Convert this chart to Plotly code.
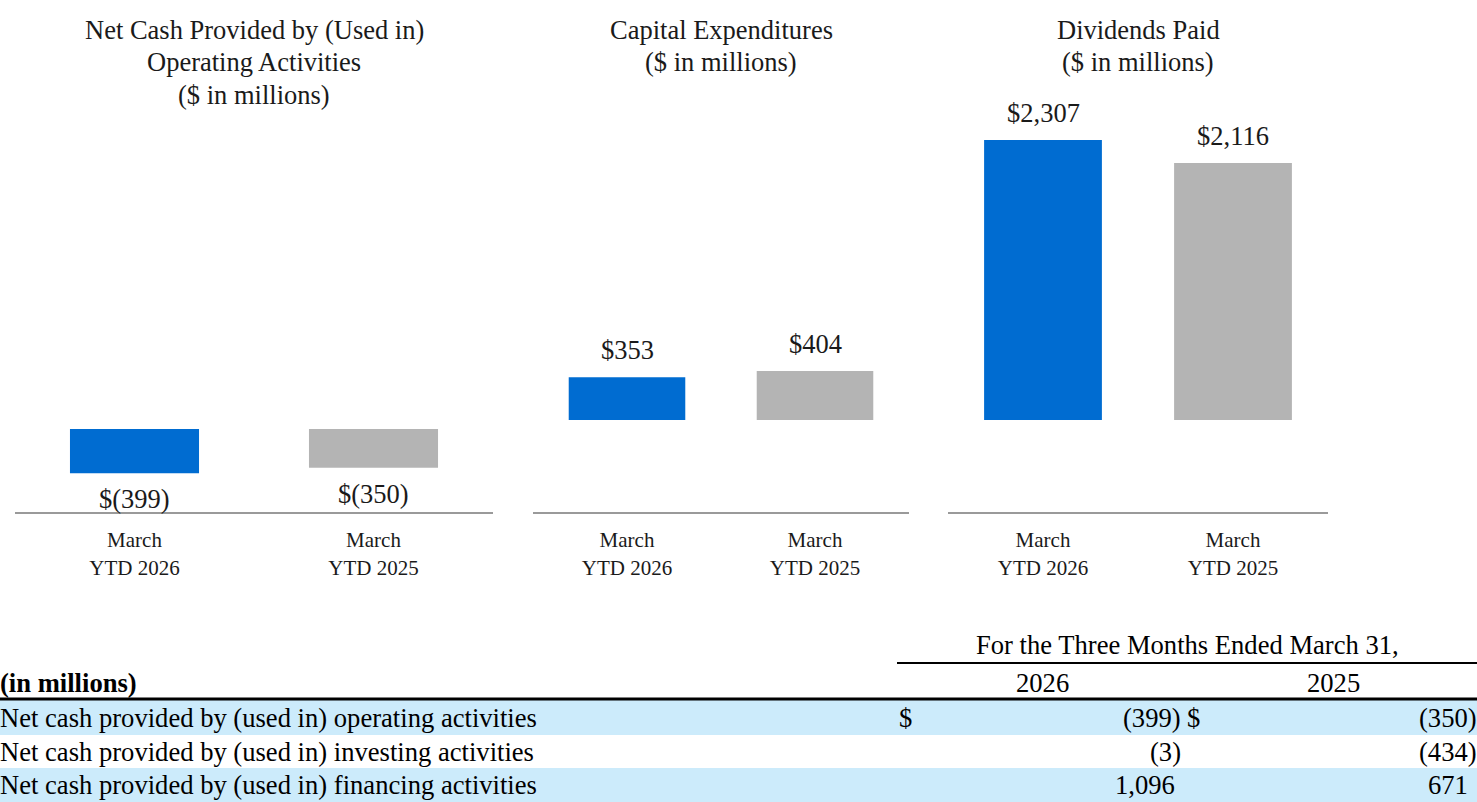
import plotly.graph_objects as go

W, H = 1477, 802

# ---------------- data ----------------
categories = ["March<br>YTD 2026", "March<br>YTD 2025"]
panel_titles = [
    ["Net Cash Provided by (Used in)", "Operating Activities", "($ in millions)"],
    ["Capital Expenditures", "($ in millions)"],
    ["Dividends Paid", "($ in millions)"],
]
operating_cash = [-399, -350]
capital_expenditures = [353, 404]
dividends_paid = [2307, 2116]
panel_values = [operating_cash, capital_expenditures, dividends_paid]

bar_colors = ["#006CD1", "#B4B4B4"]

table_period_header = "For the Three Months Ended March 31,"
table_unit_label = "(in millions)"
table_years = ["2026", "2025"]
table_rows = [
    "Net cash provided by (used in) operating activities",
    "Net cash provided by (used in) investing activities",
    "Net cash provided by (used in) financing activities",
]
table_2026 = ["(399)", "(3)", "1,096"]
table_2025 = ["(350)", "(434)", "671"]
table_dollar_row = [True, False, False]

# ---------------- layout helpers ----------------
FONT = "Liberation Serif, Times New Roman, serif"
TXT = "#1a1a1a"

def px_x(px):
    return px / W

def px_y(py):
    return 1 - py / H

panel_px = [(15, 493), (533, 909), (948, 1328)]
bar_widths = [0.54, 0.62, 0.62]
zero_px = [429, 420, 420]
scales = [0.111, 0.1214, 0.1214]
AXIS_PX = 512

def fmt(v):
    if v < 0:
        return "$({:,})".format(-v)
    return "${:,}".format(v)

fig = go.Figure()
annotations = []
shapes = []

for i, vals in enumerate(panel_values):
    ax = "" if i == 0 else str(i + 1)
    fig.add_trace(go.Bar(
        x=categories, y=vals,
        marker=dict(color=bar_colors, line=dict(width=0)),
        width=bar_widths[i],
        xaxis="x" + ax, yaxis="y" + ax,
        showlegend=False, hoverinfo="skip",
    ))
    x0, x1 = panel_px[i]
    s = scales[i]
    z = zero_px[i]
    yrange = [-(AXIS_PX - z) / s, z / s]
    fig.layout["xaxis" + ax] = dict(
        domain=[px_x(x0), px_x(x1)], anchor="y" + ax,
        showline=True, linecolor="#9A9A9A", linewidth=2,
        showgrid=False, zeroline=False, ticks="",
        tickfont=dict(family=FONT, size=21, color=TXT),
        ticklabelstandoff=8,
        fixedrange=True,
    )
    fig.layout["yaxis" + ax] = dict(
        domain=[px_y(AXIS_PX), 1.0], anchor="x" + ax,
        range=yrange, visible=False, fixedrange=True,
    )
    for c, v in zip(categories, vals):
        annotations.append(dict(
            x=c, y=v, xref="x" + ax, yref="y" + ax,
            text=fmt(v), showarrow=False,
            yanchor="bottom" if v >= 0 else "top",
            yshift=10 if v >= 0 else -9,
            font=dict(family=FONT, size=26.5, color=TXT),
        ))
    cx = (x0 + x1) / 2
    for j, line in enumerate(panel_titles[i]):
        annotations.append(dict(
            x=px_x(cx), y=px_y(30 + 32.5 * j), xref="paper", yref="paper",
            text=line, showarrow=False, xanchor="center", yanchor="middle",
            font=dict(family=FONT, size=26.5, color=TXT),
        ))

# ---------------- table ----------------
tfont = dict(family=FONT, size=26.6, color="#000000")
annotations.append(dict(
    x=px_x(1187), y=px_y(645), xref="paper", yref="paper",
    text=table_period_header, showarrow=False, xanchor="center", yanchor="middle",
    font=tfont))
shapes.append(dict(type="line", xref="paper", yref="paper",
                   x0=px_x(897), x1=1, y0=px_y(663), y1=px_y(663),
                   line=dict(color="black", width=2)))
annotations.append(dict(
    x=0, y=px_y(683), xref="paper", yref="paper",
    text="<b>" + table_unit_label + "</b>", showarrow=False,
    xanchor="left", yanchor="middle", xshift=-2, font=tfont))
for yr, cx in zip(table_years, [1042, 1333]):
    annotations.append(dict(
        x=px_x(cx), y=px_y(683), xref="paper", yref="paper",
        text=yr, showarrow=False, xanchor="center", yanchor="middle", font=tfont))

row_tops = [700, 735, 768]
row_bots = [735, 768, 802]
for r, label in enumerate(table_rows):
    if r % 2 == 0:
        shapes.append(dict(type="rect", xref="paper", yref="paper",
                           x0=0, x1=1, y0=px_y(row_bots[r]), y1=px_y(row_tops[r]),
                           fillcolor="#CCEBFB", line=dict(width=0), layer="below"))
    cy = (row_tops[r] + row_bots[r]) / 2
    annotations.append(dict(
        x=0, y=px_y(cy), xref="paper", yref="paper", text=label,
        showarrow=False, xanchor="left", yanchor="middle", xshift=-2, font=tfont))
    v26 = table_2026[r]
    v25 = table_2025[r]
    r26 = 1183 if v26.endswith(")") else 1177
    r25 = 1479 if v25.endswith(")") else 1470
    annotations.append(dict(
        x=px_x(r26), y=px_y(cy), xref="paper", yref="paper", text=v26,
        showarrow=False, xanchor="right", yanchor="middle", font=tfont))
    annotations.append(dict(
        x=px_x(r25), y=px_y(cy), xref="paper", yref="paper", text=v25,
        showarrow=False, xanchor="right", yanchor="middle", font=tfont))
    if table_dollar_row[r]:
        annotations.append(dict(
            x=px_x(897), y=px_y(cy), xref="paper", yref="paper", text="$",
            showarrow=False, xanchor="left", yanchor="middle", font=tfont))
        annotations.append(dict(
            x=px_x(1185), y=px_y(cy), xref="paper", yref="paper", text="$",
            showarrow=False, xanchor="left", yanchor="middle", font=tfont))

shapes.append(dict(type="line", xref="paper", yref="paper",
                   x0=0, x1=1, y0=px_y(699), y1=px_y(699),
                   line=dict(color="black", width=3)))

fig.update_layout(
    width=W, height=H, autosize=False,
    margin=dict(l=0, r=0, t=0, b=0, pad=0),
    paper_bgcolor="white", plot_bgcolor="white",
    annotations=annotations, shapes=shapes,
    font=dict(family=FONT),
)

fig.write_html(
    "out.html",
    config={"displayModeBar": False},
    post_script="document.body.style.margin='0px';document.body.style.padding='0px';document.body.style.overflow='hidden';",
)
